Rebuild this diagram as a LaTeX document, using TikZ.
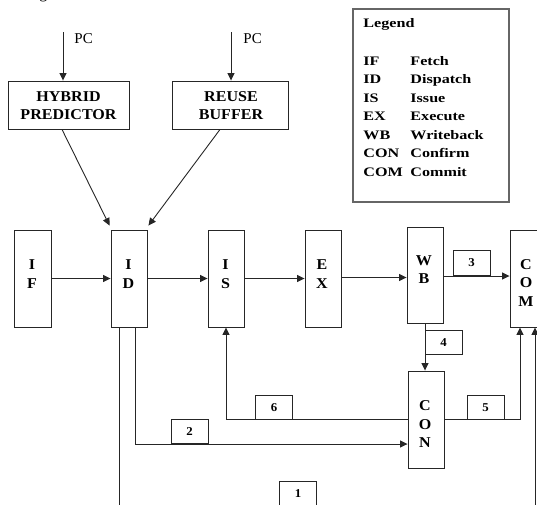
\documentclass[tikz,border=0pt]{standalone}
\usepackage{fontspec}
\setmainfont{Liberation Serif}
\newfontfamily\legfont[FakeStretch=1.24]{Liberation Serif}
\newfontfamily\boxfont[FakeStretch=1.07]{Liberation Serif}
\usetikzlibrary{arrows.meta}
\begin{document}
\begin{tikzpicture}[x=1pt,y=-1pt,
  line width=0.9pt, draw=black!85,
  arr/.style={-{Triangle[length=7.5pt,width=7pt]}, draw=black!85},
  stage/.style={draw=black!85, minimum width=36pt, minimum height=97pt, inner sep=0pt},
  bigbox/.style={draw=black!85, minimum height=48pt, inner sep=0pt},
  numbox/.style={draw=black!85, minimum width=37pt, minimum height=24.5pt, inner sep=0pt,
    font=\boxfont\bfseries\fontsize{12}{14}\selectfont},
  stagetext/.style={align=center, inner sep=0pt, font=\boxfont\bfseries\fontsize{15}{18.5}\selectfont},
  bigtext/.style={align=center, inner sep=0pt, font=\boxfont\bfseries\fontsize{15}{18}\selectfont},
  pctext/.style={anchor=base west, inner sep=0pt, font=\fontsize{15}{18}\selectfont},
  legtext/.style={anchor=base west, inner sep=0pt, font=\legfont\bfseries\fontsize{13}{15}\selectfont}]
\useasboundingbox (0,0) rectangle (537,504);

% caption fragment
\node[anchor=base west, inner sep=0pt, font=\fontsize{16}{18}\selectfont] (capg) at (39,-1.5) {g};

% top boxes
\node[bigbox, minimum width=121pt] (HP) at (68.5,105) {};
\node[bigtext] (HPt) at (68.5,106) {HYBRID\\PREDICTOR};
\node[bigbox, minimum width=116pt] (RB) at (230,105) {};
\node[bigtext] (RBt) at (231,106) {REUSE\\BUFFER};

\coordinate (pc1) at (63,32);
\coordinate (pc2) at (231,32);
\node[pctext] (pc1t) at (74,43) {PC};
\node[pctext] (pc2t) at (243,43) {PC};
\draw[arr] (pc1) -- (pc1 |- HP.north);
\draw[arr] (pc2) -- (pc2 |- RB.north);

% stages
\node[stage, minimum width=37pt] (IF) at (32.5,278.5) {};
\node[stage] (ID) at (129,278.5) {};
\node[stage] (IS) at (226,278.5) {};
\node[stage] (EX) at (323,278.5) {};
\node[stage, minimum height=96pt] (WB) at (425,275) {};
\node[stage] (COM) at (528,278.5) {};
\node[stage] (CON) at (426,419.5) {};

\node[stagetext] (IFt) at (32,274) {I\\F};
\node[stagetext] (IDt) at (128.5,274) {I\\D};
\node[stagetext] (ISt) at (225.5,274) {I\\S};
\node[stagetext] (EXt) at (322,274) {E\\X};
\node[stagetext] (WBt) at (424,269.5) {W\\B};
\node[stagetext] (COMt) at (526,283) {C\\O\\M};
\node[stagetext] (CONt) at (425,424.5) {C\\O\\N};

% number boxes
\node[numbox] (n3) at (471.5,263) {3};
\node[numbox] (n4) at (443.5,342.5) {4};
\node[numbox] (n5) at (485.5,407.5) {5};
\node[numbox] (n6) at (274,407.5) {6};
\node[numbox] (n2) at (189.5,431.5) {2};
\node[numbox] (n1) at (298,494) {1};

% connectors
\draw[arr] ([xshift=-6.5pt]HP.south) -- ([shift={(-1,-4)}]ID.north west);
\draw[arr] ([xshift=-10pt]RB.south) -- ([shift={(1,-4)}]ID.north east);
\draw[arr] (IF) -- (ID);
\draw[arr] (ID) -- (IS);
\draw[arr] (IS) -- (EX);
\draw[arr] ([yshift=1pt]EX.east) -- ([yshift=1pt]EX.east -| WB.west);
\draw[arr] ([yshift=-1pt]WB.east) -- ([yshift=-1pt]WB.east -| COM.west);
\draw[arr] (WB.south) -- (WB.south |- CON.north);
\draw[arr] (CON.east) -| ([xshift=-8pt]COM.south);
\draw[arr] (CON.west) -| (IS.south);
\draw[arr] ([xshift=6pt]ID.south) |- ([shift={(0,24.5)}]CON.west);
\coordinate (c1) at (300,506);
\draw[arr] ([xshift=-10pt]ID.south) |- (c1) -| ([xshift=7pt]COM.south);

% legend
\node[draw=black!60, line width=1.2pt, minimum width=156pt, minimum height=193pt, inner sep=0pt] (legend) at (431,105.5) {};
\node[legtext] (lg0) at (363,27) {Legend};
\node[legtext] (a1) at (363,65) {IF};
\node[legtext] (a2) at (363,83.5) {ID};
\node[legtext] (a3) at (363,102) {IS};
\node[legtext] (a4) at (363,120.5) {EX};
\node[legtext] (a5) at (363,139) {WB};
\node[legtext] (a6) at (363,157.5) {CON};
\node[legtext] (a7) at (363,176) {COM};
\node[legtext] (b1) at (410,65) {Fetch};
\node[legtext] (b2) at (410,83.5) {Dispatch};
\node[legtext] (b3) at (410,102) {Issue};
\node[legtext] (b4) at (410,120.5) {Execute};
\node[legtext] (b5) at (410,139) {Writeback};
\node[legtext] (b6) at (410,157.5) {Confirm};
\node[legtext] (b7) at (410,176) {Commit};
\end{tikzpicture}
\end{document}
